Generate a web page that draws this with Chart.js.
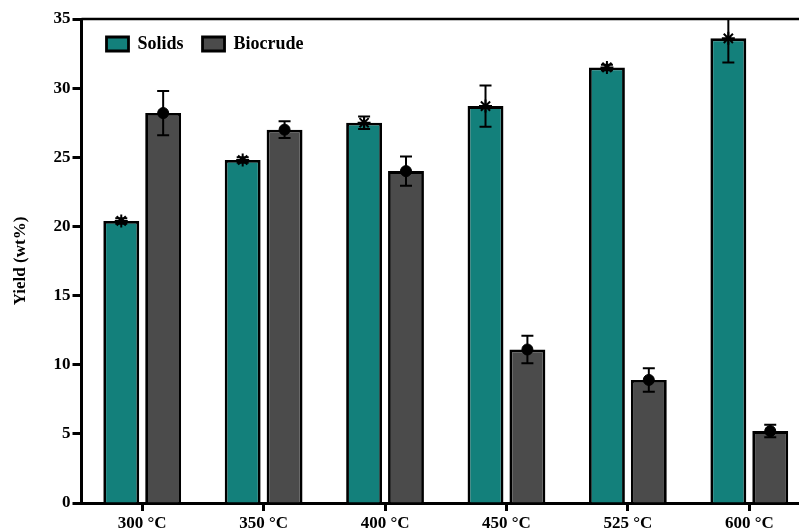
<!DOCTYPE html>
<html>
<head>
<meta charset="utf-8">
<script src="https://cdn.jsdelivr.net/npm/chart.js@4"></script>
<style>
  html, body { margin: 0; padding: 0; background: #fff; overflow: hidden; }
  canvas { display: block; }
</style>
</head>
<body>
<canvas id="yieldChart" width="812" height="531"></canvas>
<script>
// Product yields at each liquefaction temperature
const temperatures = ['300 °C', '350 °C', '400 °C', '450 °C', '525 °C', '600 °C'];
const solidsYield = [20.4, 24.8, 27.5, 28.7, 31.5, 33.6];
const solidsError = [0.2, 0.2, 0.45, 1.5, 0.2, 1.75];
const biocrudeYield = [28.2, 27.0, 24.0, 11.1, 8.9, 5.2];
const biocrudeError = [1.6, 0.6, 1.05, 1.0, 0.85, 0.45];
const yTicks = [0, 5, 10, 15, 20, 25, 30, 35];

const FONT = { family: '"Liberation Serif", "Times New Roman", serif', size: 17, weight: 'bold' };
const LEGEND_FONT = { family: '"Liberation Serif", "Times New Roman", serif', size: 18, weight: 'bold' };
const errorSets = [solidsError, biocrudeError];
const markerStyles = ['star', 'circle'];

// Error bars plus a marker at each mean value
const errorBarPlugin = {
  id: 'errorBars',
  afterDatasetsDraw(chart) {
    const { ctx, chartArea, scales: { y } } = chart;
    ctx.save();
    ctx.beginPath();
    ctx.rect(chartArea.left, chartArea.top - 1, chartArea.right - chartArea.left, chartArea.bottom - chartArea.top + 1);
    ctx.clip();
    chart.data.datasets.forEach((ds, di) => {
      const meta = chart.getDatasetMeta(di);
      const errs = errorSets[di];
      meta.data.forEach((bar, i) => {
        const v = ds.data[i];
        const e = errs[i];
        const x = bar.x;
        const yHi = y.getPixelForValue(v + e);
        const yLo = y.getPixelForValue(v - e);
        const cap = 6;
        ctx.strokeStyle = '#000';
        ctx.lineWidth = 2;
        ctx.beginPath();
        ctx.moveTo(x, yHi); ctx.lineTo(x, yLo);
        ctx.moveTo(x - cap, yHi); ctx.lineTo(x + cap, yHi);
        ctx.moveTo(x - cap, yLo); ctx.lineTo(x + cap, yLo);
        ctx.stroke();
        const style = markerStyles[di];
        ctx.fillStyle = '#000';
        ctx.lineWidth = style === 'star' ? 2 : 1;
        Chart.helpers.drawPoint(ctx, {
          pointStyle: style,
          radius: style === 'star' ? 6.5 : 5.5,
          borderWidth: ctx.lineWidth,
          rotation: 0
        }, x, y.getPixelForValue(v));
      });
    });
    ctx.restore();
  }
};

// Top frame line of the plot area
const frameTopPlugin = {
  id: 'frameTop',
  afterDraw(chart) {
    const { ctx, chartArea } = chart;
    ctx.save();
    ctx.strokeStyle = '#000';
    ctx.lineWidth = 2.5;
    ctx.beginPath();
    ctx.moveTo(chartArea.left, chartArea.top);
    ctx.lineTo(chart.width, chartArea.top);
    ctx.stroke();
    ctx.restore();
  }
};

// Legend sits inside the plot area as a single horizontal row
const inPlotLegendPlugin = {
  id: 'inPlotLegend',
  afterInit(chart) {
    if (chart.legend) {
      chart.legend.isHorizontal = () => true;
    }
  },
  afterLayout(chart) {
    const lg = chart.legend;
    if (!lg) return;
    const area = chart.chartArea;
    lg.left = area.left + 6;
    lg.right = area.right;
    lg.top = area.top - 3;
    lg.bottom = area.bottom;
  }
};

new Chart(document.getElementById('yieldChart'), {
  type: 'bar',
  data: {
    labels: temperatures,
    datasets: [
      {
        label: 'Solids',
        data: solidsYield,
        backgroundColor: '#13807B',
        borderColor: '#000',
        borderWidth: 2.8,
        borderSkipped: 'start'
      },
      {
        label: 'Biocrude',
        data: biocrudeYield,
        backgroundColor: '#4B4B4B',
        borderColor: '#000',
        borderWidth: 2.8,
        borderSkipped: 'start'
      }
    ]
  },
  options: {
    responsive: false,
    animation: false,
    datasets: { bar: { categoryPercentage: 0.69, barPercentage: 0.857 } },
    layout: { padding: { top: 19, right: 2, left: 0, bottom: 0 } },
    plugins: {
      legend: {
        position: 'chartArea',
        align: 'start',
        labels: {
          color: '#000',
          font: LEGEND_FONT,
          boxWidth: 22,
          boxHeight: 14,
          padding: 19
        }
      },
      tooltip: { enabled: false }
    },
    scales: {
      x: {
        offset: true,
        grid: {
          offset: false,
          drawOnChartArea: false,
          drawTicks: true,
          tickLength: 8,
          tickWidth: 3,
          tickColor: '#000'
        },
        border: { display: true, color: '#000', width: 3 },
        ticks: { color: '#000', font: FONT, padding: 2, maxRotation: 0 },
        afterFit(scale) { scale.height = 28; }
      },
      y: {
        min: 0,
        max: 35,
        afterBuildTicks(scale) { scale.ticks = yTicks.map(v => ({ value: v })); },
        grid: {
          drawOnChartArea: false,
          drawTicks: true,
          tickLength: 9,
          tickWidth: 3,
          tickColor: '#000'
        },
        border: { display: true, color: '#000', width: 3 },
        ticks: { color: '#000', font: FONT, padding: 2 },
        title: {
          display: true,
          text: 'Yield (wt%)',
          color: '#000',
          font: FONT,
          padding: { top: 10, bottom: 0 }
        },
        afterFit(scale) { scale.width = 81.5; }
      }
    }
  },
  plugins: [errorBarPlugin, frameTopPlugin, inPlotLegendPlugin]
});
</script>
</body>
</html>
